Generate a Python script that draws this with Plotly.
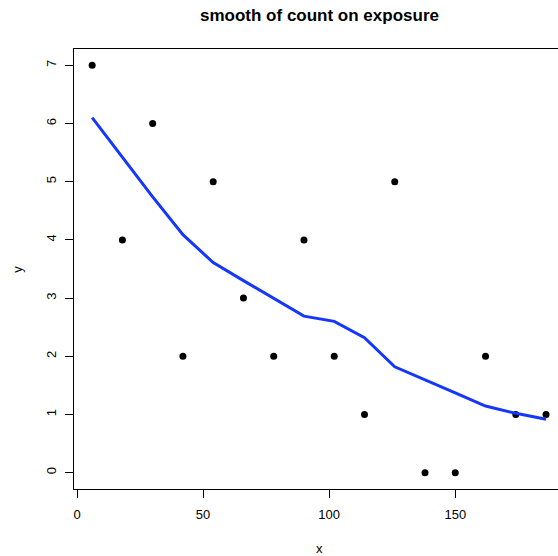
import plotly.graph_objects as go

exposure = [6, 18, 30, 42, 54, 66, 78, 90, 102, 114, 126, 138, 150, 162, 174, 186]
count = [7, 4, 6, 2, 5, 3, 2, 4, 2, 1, 5, 0, 0, 2, 1, 1]
smooth = [6.10, 5.42, 4.74, 4.09, 3.61, 3.30, 2.99, 2.69, 2.60, 2.32, 1.82, 1.59, 1.37, 1.145, 1.02, 0.92]

x_ticks = [0, 50, 100, 150]
y_ticks = [0, 1, 2, 3, 4, 5, 6, 7]

W, H = 558, 556
px_per = 2.52
ml, mt, mb = 74.3, 48.7, 67
x_lo = -1.2
x_hi = x_lo + (W - ml) / px_per


def px2paper(px, py):
    return (px - ml) / (W - ml), (H - mb - py) / (H - mt - mb)


fig = go.Figure()
fig.add_trace(go.Scatter(x=exposure, y=count, mode="markers",
                         marker=dict(color="black", size=7), hoverinfo="skip"))
fig.add_trace(go.Scatter(x=exposure, y=smooth, mode="lines",
                         line=dict(color="#1436FF", width=3), hoverinfo="skip"))

fam = "Liberation Sans, Arial, sans-serif"
font = dict(family=fam, size=13, color="black")
tx, ty = px2paper(319.5, 15)
xx, xy = px2paper(319.5, 549)
yx, yy = px2paper(17, 269)
fig.update_layout(
    width=W, height=H,
    margin=dict(l=ml, r=0, t=mt, b=mb, pad=0),
    paper_bgcolor="white", plot_bgcolor="white",
    showlegend=False, font=font,
    xaxis=dict(range=[x_lo, x_hi], tickvals=x_ticks, ticks="outside", ticklen=8,
               tickcolor="black", tickwidth=1, showgrid=False, zeroline=False,
               showline=True, linecolor="black", linewidth=1.2, mirror=True,
               tickfont=font, ticklabelstandoff=5),
    yaxis=dict(range=[-0.28, 7.28], tickvals=y_ticks, ticks="outside", ticklen=8,
               tickcolor="black", tickwidth=1, showgrid=False, zeroline=False,
               showline=True, linecolor="black", linewidth=1.2, mirror=False,
               tickangle=-90, tickfont=font, ticklabelstandoff=4),
    annotations=[
        dict(text="<b>smooth of count on exposure</b>", x=tx, y=ty,
             xref="paper", yref="paper", xanchor="center", yanchor="middle",
             showarrow=False, font=dict(family=fam, size=17, color="black")),
        dict(text="x", x=xx, y=xy, xref="paper", yref="paper",
             xanchor="center", yanchor="middle", showarrow=False, font=font),
        dict(text="y", x=yx, y=yy, xref="paper", yref="paper",
             xanchor="center", yanchor="middle", showarrow=False, textangle=-90, font=font),
    ],
)
fig.write_html("out.html")
